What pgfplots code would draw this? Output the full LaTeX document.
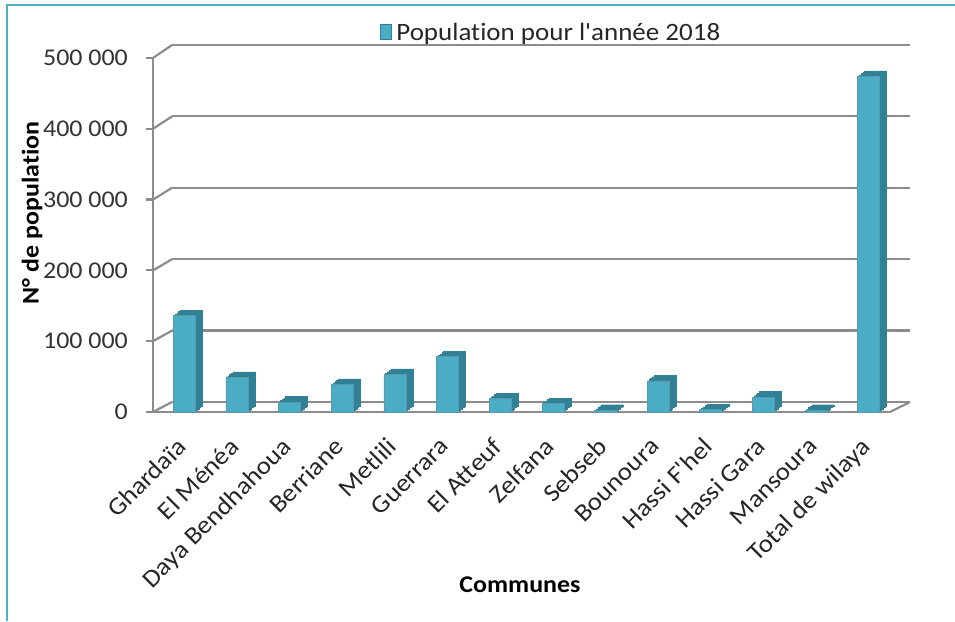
\documentclass[border=0pt]{standalone}
\usepackage{pgfplots}
\pgfplotsset{compat=1.18}
\usepackage{pgfplotstable}
\usepackage{fontspec}
\setmainfont{Carlito}[FakeStretch=1.08, Ligatures={TeXOff,NoCommon}]
\definecolor{barfront}{RGB}{75,172,198}
\definecolor{barside}{RGB}{49,128,150}
\definecolor{gridg}{RGB}{140,140,140}
\definecolor{frameb}{RGB}{80,175,205}
\pgfplotstableread{
x y
0 136000
1 49000
2 14000
3 39000
4 53000
5 78000
6 19000
7 12000
8 2500
9 44000
10 3500
11 21000
12 2500
13 474000
}\datatable
\newcommand{\shadowaxis}[2]{%
\begin{axis}[at={(#1pt,#2pt)}, anchor=south west, scale only axis, hide axis,
  width=737pt, height=354pt, xmin=-0.5, xmax=13.5, ymin=0, ymax=500000,
  ybar, bar width=22pt, bar shift=5pt]
\addplot[fill=barside, draw=barside, line width=0.4pt] table[x=x,y=y] {\datatable};
\end{axis}}
\begin{document}
\begin{tikzpicture}[x=1pt,y=1pt]
\path[use as bounding box] (0,0) rectangle (955,621);
\draw[frameb, line width=1.2pt] (7,0) -- (7,616) -- (955,616);
% back wall
\begin{axis}[at={(172pt,219pt)}, anchor=south west, scale only axis,
  width=738pt, height=357pt, xmin=-0.5, xmax=13.5, ymin=0, ymax=500000,
  axis line style={draw=none}, xtick=\empty,
  ytick={0,100000,200000,300000,400000,500000}, yticklabels={},
  scaled y ticks=false,
  tick style={draw=none}, ymajorgrids, grid style={gridg, line width=2.2pt}]
\addplot[draw=none] coordinates {(0,0)};
\end{axis}
\foreach \k in {0,...,5} {
  \draw[gridg, line width=2.2pt] (153,209+70.8*\k) -- (172,219+71.4*\k);
}
\draw[gridg, line width=2.2pt] (890,209) -- (910,219);
% bar depth (side and top faces)
\shadowaxis{160}{214.5}
\shadowaxis{158.25}{213.1}
\shadowaxis{156.5}{211.75}
\shadowaxis{154.75}{210.4}
% front
\begin{axis}[at={(153pt,209pt)}, anchor=south west, scale only axis,
  width=737pt, height=354pt, xmin=-0.5, xmax=13.5, ymin=0, ymax=500000,
  axis x line*=bottom, axis y line*=left,
  axis line style={gridg, line width=2.2pt, -},
  xtick={0,...,13},
  xticklabels={Ghardaïa, El Ménéa, Daya Bendhahoua, Berriane, Metlili, Guerrara, El Atteuf, Zelfana, Sebseb, Bounoura, Hassi F'hel, Hassi Gara, Mansoura, Total de wilaya},
  x tick style={draw=none},
  xticklabel style={xshift=-4pt, yshift=-17pt, rotate=45, anchor=north east, inner sep=0pt,
    font=\fontsize{25}{28}\selectfont, text=black!85},
  extra x ticks={-0.5,0.5,...,13.5}, extra x tick labels={},
  extra x tick style={tick style={draw=gridg, line width=2.2pt}, major tick length=8pt, tick align=outside},
  ytick={0,100000,200000,300000,400000,500000},
  yticklabels={0,100 000,200 000,300 000,400 000,500 000},
  y tick style={draw=gridg, line width=2.2pt}, tick align=outside, major tick length=7pt,
  yticklabel style={font=\fontsize{24}{28}\selectfont, text=black!80, inner sep=0pt, xshift=-18pt},
  scaled y ticks=false,
  /pgf/number format/assume math mode=true,
  ybar, bar width=22pt, bar shift=5pt,
  legend style={at={(0.54,1)}, anchor=south, yshift=14pt, draw=none, fill=none,
    font=\fontsize{25}{28}\selectfont, text=black!85, inner sep=0pt},
  ]
\addplot[fill=barfront, draw=barside!80, line width=0.6pt,
  legend image code/.code={\draw[barside, fill=barfront, line width=0.8pt] (-8pt,-7pt) rectangle (3pt,8pt); \path (6pt,0pt);}]
  table[x=x,y=y] {\datatable};
\addlegendentry{Population pour l'année 2018}
\end{axis}
\node[rotate=90, font=\bfseries\fontsize{24}{28}\selectfont, text=black] at (32,408) {N° de population};
\node[font=\bfseries\fontsize{24}{28}\selectfont, text=black] at (520,36) {Communes};
\end{tikzpicture}
\end{document}
